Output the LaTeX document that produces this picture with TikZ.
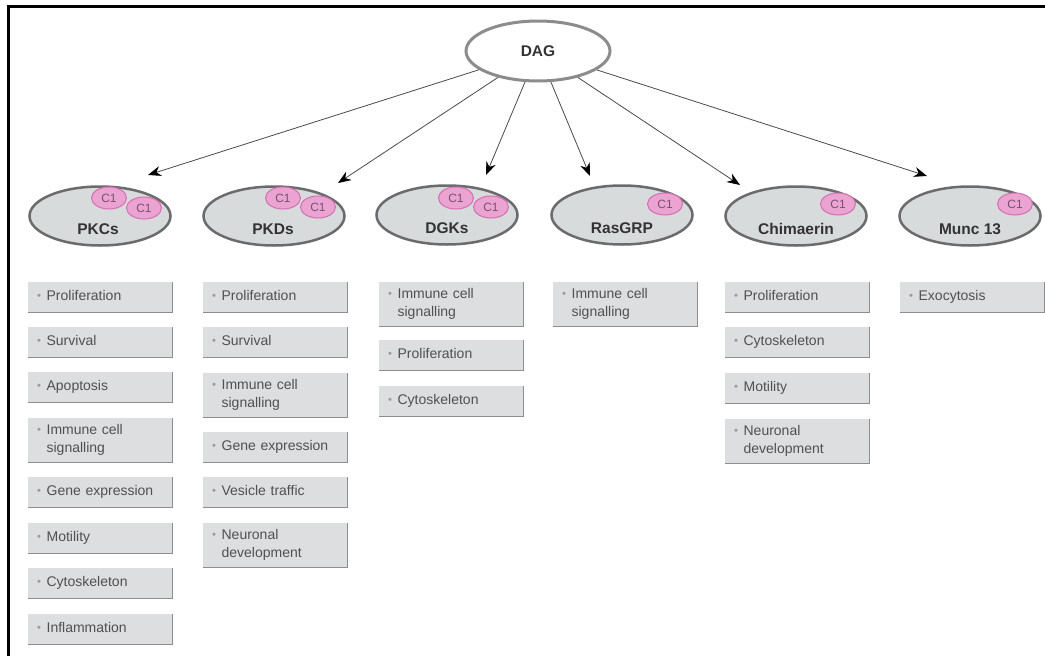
\documentclass[tikz,border=0pt]{standalone}
\usepackage{fontspec}
\setmainfont{Liberation Sans}
\usetikzlibrary{shapes.geometric,arrows.meta}
\definecolor{boxfill}{HTML}{DCDEE0}
\definecolor{shadowc}{HTML}{8E8E8E}
\definecolor{protfill}{HTML}{D7DBDC}
\definecolor{protdraw}{HTML}{6B6B6B}
\definecolor{dagdraw}{HTML}{8C8C8C}
\definecolor{c1fill}{HTML}{EBA4D2}
\definecolor{c1draw}{HTML}{D46FB2}
\definecolor{c1text}{HTML}{7A5070}
\definecolor{txt}{HTML}{505050}
\definecolor{bulc}{HTML}{9A9A9A}
\definecolor{lblc}{HTML}{333333}
\definecolor{arrc}{HTML}{4A4A4A}
\newcommand{\bul}{\textcolor{bulc}{\raisebox{0.15ex}{\scalebox{0.8}{\textbullet}}}}
\newcommand{\itm}[1]{{\renewcommand{\arraystretch}{1.05}\begin{tabular}{@{}l@{\hspace{5.5pt}}l@{}}\bul & #1\end{tabular}}}
\newcommand{\ibox}[5]{%
  \node[ibox,minimum height=#4pt] (#1) at (#2,#3) {\itm{#5}};
  \draw[shadowline] (#1.north east) -- (#1.south east) -- (#1.south west);}
\tikzset{
  ibox/.style={rectangle, fill=boxfill, minimum width=144pt, inner xsep=9pt, inner ysep=0pt,
    text width=126pt, align=left, anchor=north west, font=\fontsize{14}{17}\selectfont, text=txt},
  shadowline/.style={draw=shadowc, line width=1.8pt},
  prot/.style={ellipse, draw=protdraw, line width=2.5pt, fill=protfill, minimum width=141pt,
    minimum height=59pt, inner sep=0pt},
  plabel/.style={font=\bfseries\fontsize{15.5}{18}\selectfont, text=lblc, inner sep=0pt},
  dagnode/.style={ellipse, draw=dagdraw, line width=3pt, fill=white, minimum width=144pt,
    minimum height=60pt, inner sep=0pt, font=\bfseries\fontsize{15.5}{18}\selectfont, text=lblc},
  cone/.style={ellipse, fill=c1fill, draw=c1draw, line width=1pt, minimum width=35pt,
    minimum height=22pt, inner sep=0pt, font=\fontsize{12}{14}\selectfont, text=c1text},
  arr/.style={draw=arrc, line width=0.8pt, -{Stealth[length=13pt,width=10pt,color=black]}}
}
\begin{document}
\begin{tikzpicture}[x=1pt,y=-1pt]
\useasboundingbox (0,0) rectangle (1045,656);
\draw[line width=3pt] (8,656) -- (8,6) -- (1045,6);

% DAG
\node[dagnode] (dag) at (538,51) {DAG};

% proteins
\node[prot] (pkc) at (100,216) {};
\node[plabel] (pkcT) at (98,229) {PKCs};
\node[cone] (pkc1) at (109,198) {C1};
\node[cone] (pkc2) at (144,208) {C1};

\node[prot] (pkd) at (274,216) {};
\node[plabel] (pkdT) at (273,229) {PKDs};
\node[cone] (pkd1) at (283,198) {C1};
\node[cone] (pkd2) at (318,207) {C1};

\node[prot] (dgk) at (447,215) {};
\node[plabel] (dgkT) at (447,228) {DGKs};
\node[cone] (dgk1) at (456,198) {C1};
\node[cone] (dgk2) at (491,207) {C1};

\node[prot] (ras) at (622,215) {};
\node[plabel] (rasT) at (622,228) {RasGRP};
\node[cone] (ras1) at (665,204) {C1};

\node[prot] (chi) at (796,216) {};
\node[plabel] (chiT) at (796,229) {Chimaerin};
\node[cone] (chi1) at (838,204) {C1};

\node[prot] (mun) at (970,216) {};
\node[plabel] (munT) at (970,229) {Munc 13};
\node[cone] (mun11) at (1015,204) {C1};

% arrow tips
\coordinate (tpkc) at (148,175);
\coordinate (tpkd) at (338,183);
\coordinate (tdgk) at (486,175);
\coordinate (tras) at (590,176);
\coordinate (tchi) at (740,185);
\coordinate (tmun) at (927,176);
\draw[arr] (dag) -- (tpkc);
\draw[arr] (dag) -- (tpkd);
\draw[arr] (dag) -- (tdgk);
\draw[arr] (dag) -- (tras);
\draw[arr] (dag) -- (tchi);
\draw[arr] (dag) -- (tmun);

% PKCs column
\ibox{a1}{28}{282}{30}{Proliferation}
\ibox{a2}{28}{327}{30}{Survival}
\ibox{a3}{28}{372}{30}{Apoptosis}
\ibox{a4}{28}{418}{44}{Immune cell\\ & signalling}
\ibox{a5}{28}{477}{30}{Gene expression}
\ibox{a6}{28}{523}{30}{Motility}
\ibox{a7}{28}{568}{30}{Cytoskeleton}
\ibox{a8}{28}{614}{30}{Inflammation}

% PKDs column
\ibox{b1}{203}{282}{30}{Proliferation}
\ibox{b2}{203}{327}{30}{Survival}
\ibox{b3}{203}{373}{44}{Immune cell\\ & signalling}
\ibox{b4}{203}{432}{30}{Gene expression}
\ibox{b5}{203}{477}{30}{Vesicle traffic}
\ibox{b6}{203}{523}{44}{Neuronal\\ & development}

% DGKs column
\ibox{c1}{379}{282}{44}{Immune cell\\ & signalling}
\ibox{c2}{379}{340}{30}{Proliferation}
\ibox{c3}{379}{386}{30}{Cytoskeleton}

% RasGRP column
\ibox{d1}{553}{282}{44}{Immune cell\\ & signalling}

% Chimaerin column
\ibox{e1}{725}{282}{30}{Proliferation}
\ibox{e2}{725}{327}{30}{Cytoskeleton}
\ibox{e3}{725}{373}{30}{Motility}
\ibox{e4}{725}{419}{44}{Neuronal\\ & development}

% Munc 13 column
\ibox{f1}{900}{282}{30}{Exocytosis}
\end{tikzpicture}
\end{document}
